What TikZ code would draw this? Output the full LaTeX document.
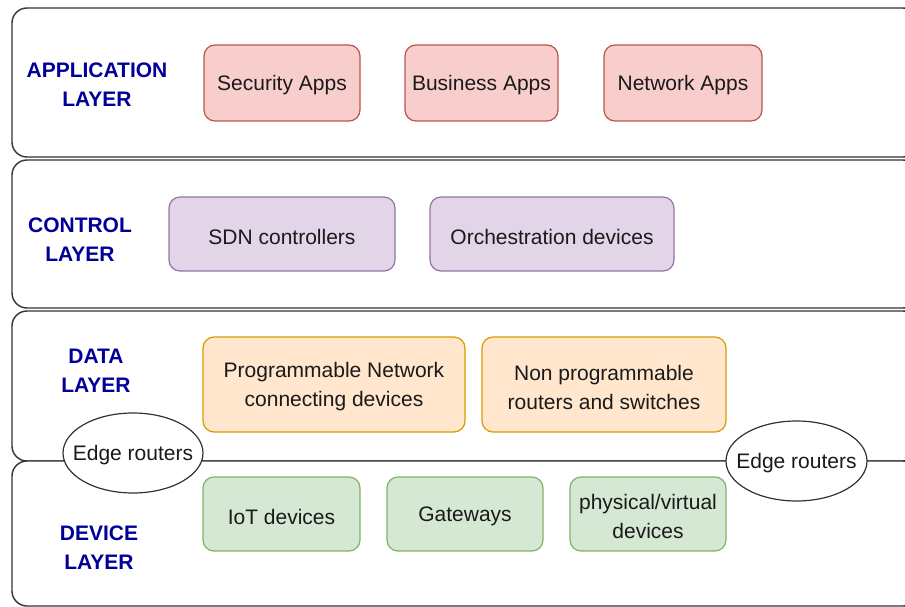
\documentclass[tikz,border=0pt]{standalone}
\usepackage{fontspec}
\setmainfont{Liberation Sans}
\usetikzlibrary{shapes.geometric}
\definecolor{labelblue}{HTML}{000099}
\definecolor{redfill}{HTML}{F8CECC}\definecolor{redline}{HTML}{B85450}
\definecolor{purpfill}{HTML}{E1D5E7}\definecolor{purpline}{HTML}{9673A6}
\definecolor{orfill}{HTML}{FFE6CC}\definecolor{orline}{HTML}{D79B00}
\definecolor{grfill}{HTML}{D5E8D4}\definecolor{grline}{HTML}{82B366}
\definecolor{txt}{HTML}{1A1A1A}
\tikzset{
  layer/.style={draw=black!80, line width=1.4pt, rounded corners=15pt, fill=white},
  layerlabel/.style={font=\fontsize{21}{29}\selectfont\bfseries, text=labelblue, align=center, inner sep=0pt},
  boxtext/.style={font=\fontsize{21}{29}\selectfont, text=txt, align=center, inner sep=0pt, yshift=-2.5pt},
  box/.style={rectangle, rounded corners=11pt, line width=1.2pt, inner sep=0pt},
  appbox/.style={box, draw=redline, fill=redfill},
  ctlbox/.style={box, draw=purpline, fill=purpfill},
  databox/.style={box, draw=orline, fill=orfill},
  devbox/.style={box, draw=grline, fill=grfill},
  edge/.style={ellipse, draw=black!80, line width=1.2pt, fill=white, inner sep=0pt,
               minimum width=140pt, minimum height=80pt}
}
\begin{document}
\begin{tikzpicture}[x=1pt,y=-1pt]
\useasboundingbox (0,0) rectangle (905,607);
% layer bands (right edge runs past the page)
\draw[layer] (12,8) rectangle (918,157);
\draw[layer] (12,160) rectangle (918,308);
\draw[layer] (12,311) rectangle (918,461);
\draw[layer] (12,461) rectangle (918,606);

% layer names
\node[layerlabel] (lapp) at (97,84.5) {APPLICATION\\LAYER};
\node[layerlabel] (lctl) at (80,239.5) {CONTROL\\LAYER};
\node[layerlabel] (ldata) at (96,370.5) {DATA\\LAYER};
\node[layerlabel] (ldev) at (99,547.5) {DEVICE\\LAYER};

% application layer
\node[appbox, minimum width=156pt, minimum height=76pt,
      label={[boxtext]center:Security Apps}] (sec) at (282,83) {};
\node[appbox, minimum width=153pt, minimum height=76pt,
      label={[boxtext]center:Business Apps}] (bus) at (481.5,83) {};
\node[appbox, minimum width=158pt, minimum height=76pt,
      label={[boxtext]center:Network Apps}] (net) at (683,83) {};

% control layer
\node[ctlbox, minimum width=226pt, minimum height=74pt,
      label={[boxtext]center:SDN controllers}] (sdn) at (282,234) {};
\node[ctlbox, minimum width=244pt, minimum height=74pt,
      label={[boxtext]center:Orchestration devices}] (orch) at (552,234) {};

% data layer
\node[databox, minimum width=262pt, minimum height=95pt,
      label={[boxtext]center:{Programmable Network\\connecting devices}}] (prog) at (334,384.5) {};
\node[databox, minimum width=244pt, minimum height=95pt,
      label={[boxtext]center:{Non programmable\\routers and switches}}] (nonprog) at (604,384.5) {};

% device layer
\node[devbox, minimum width=157pt, minimum height=74pt,
      label={[boxtext]center:IoT devices}] (iot) at (281.5,514) {};
\node[devbox, minimum width=156pt, minimum height=74pt,
      label={[boxtext]center:Gateways}] (gw) at (465,514) {};
\node[devbox, minimum width=156pt, minimum height=74pt,
      label={[boxtext]center:{physical/virtual\\devices}}] (phys) at (648,514) {};

% edge routers on the data/device boundary
\node[edge, label={[boxtext]center:Edge routers}] (erl) at (133,453) {};
\node[edge, minimum width=141pt, label={[boxtext]center:Edge routers}] (err) at (796.5,461) {};
\end{tikzpicture}
\end{document}
